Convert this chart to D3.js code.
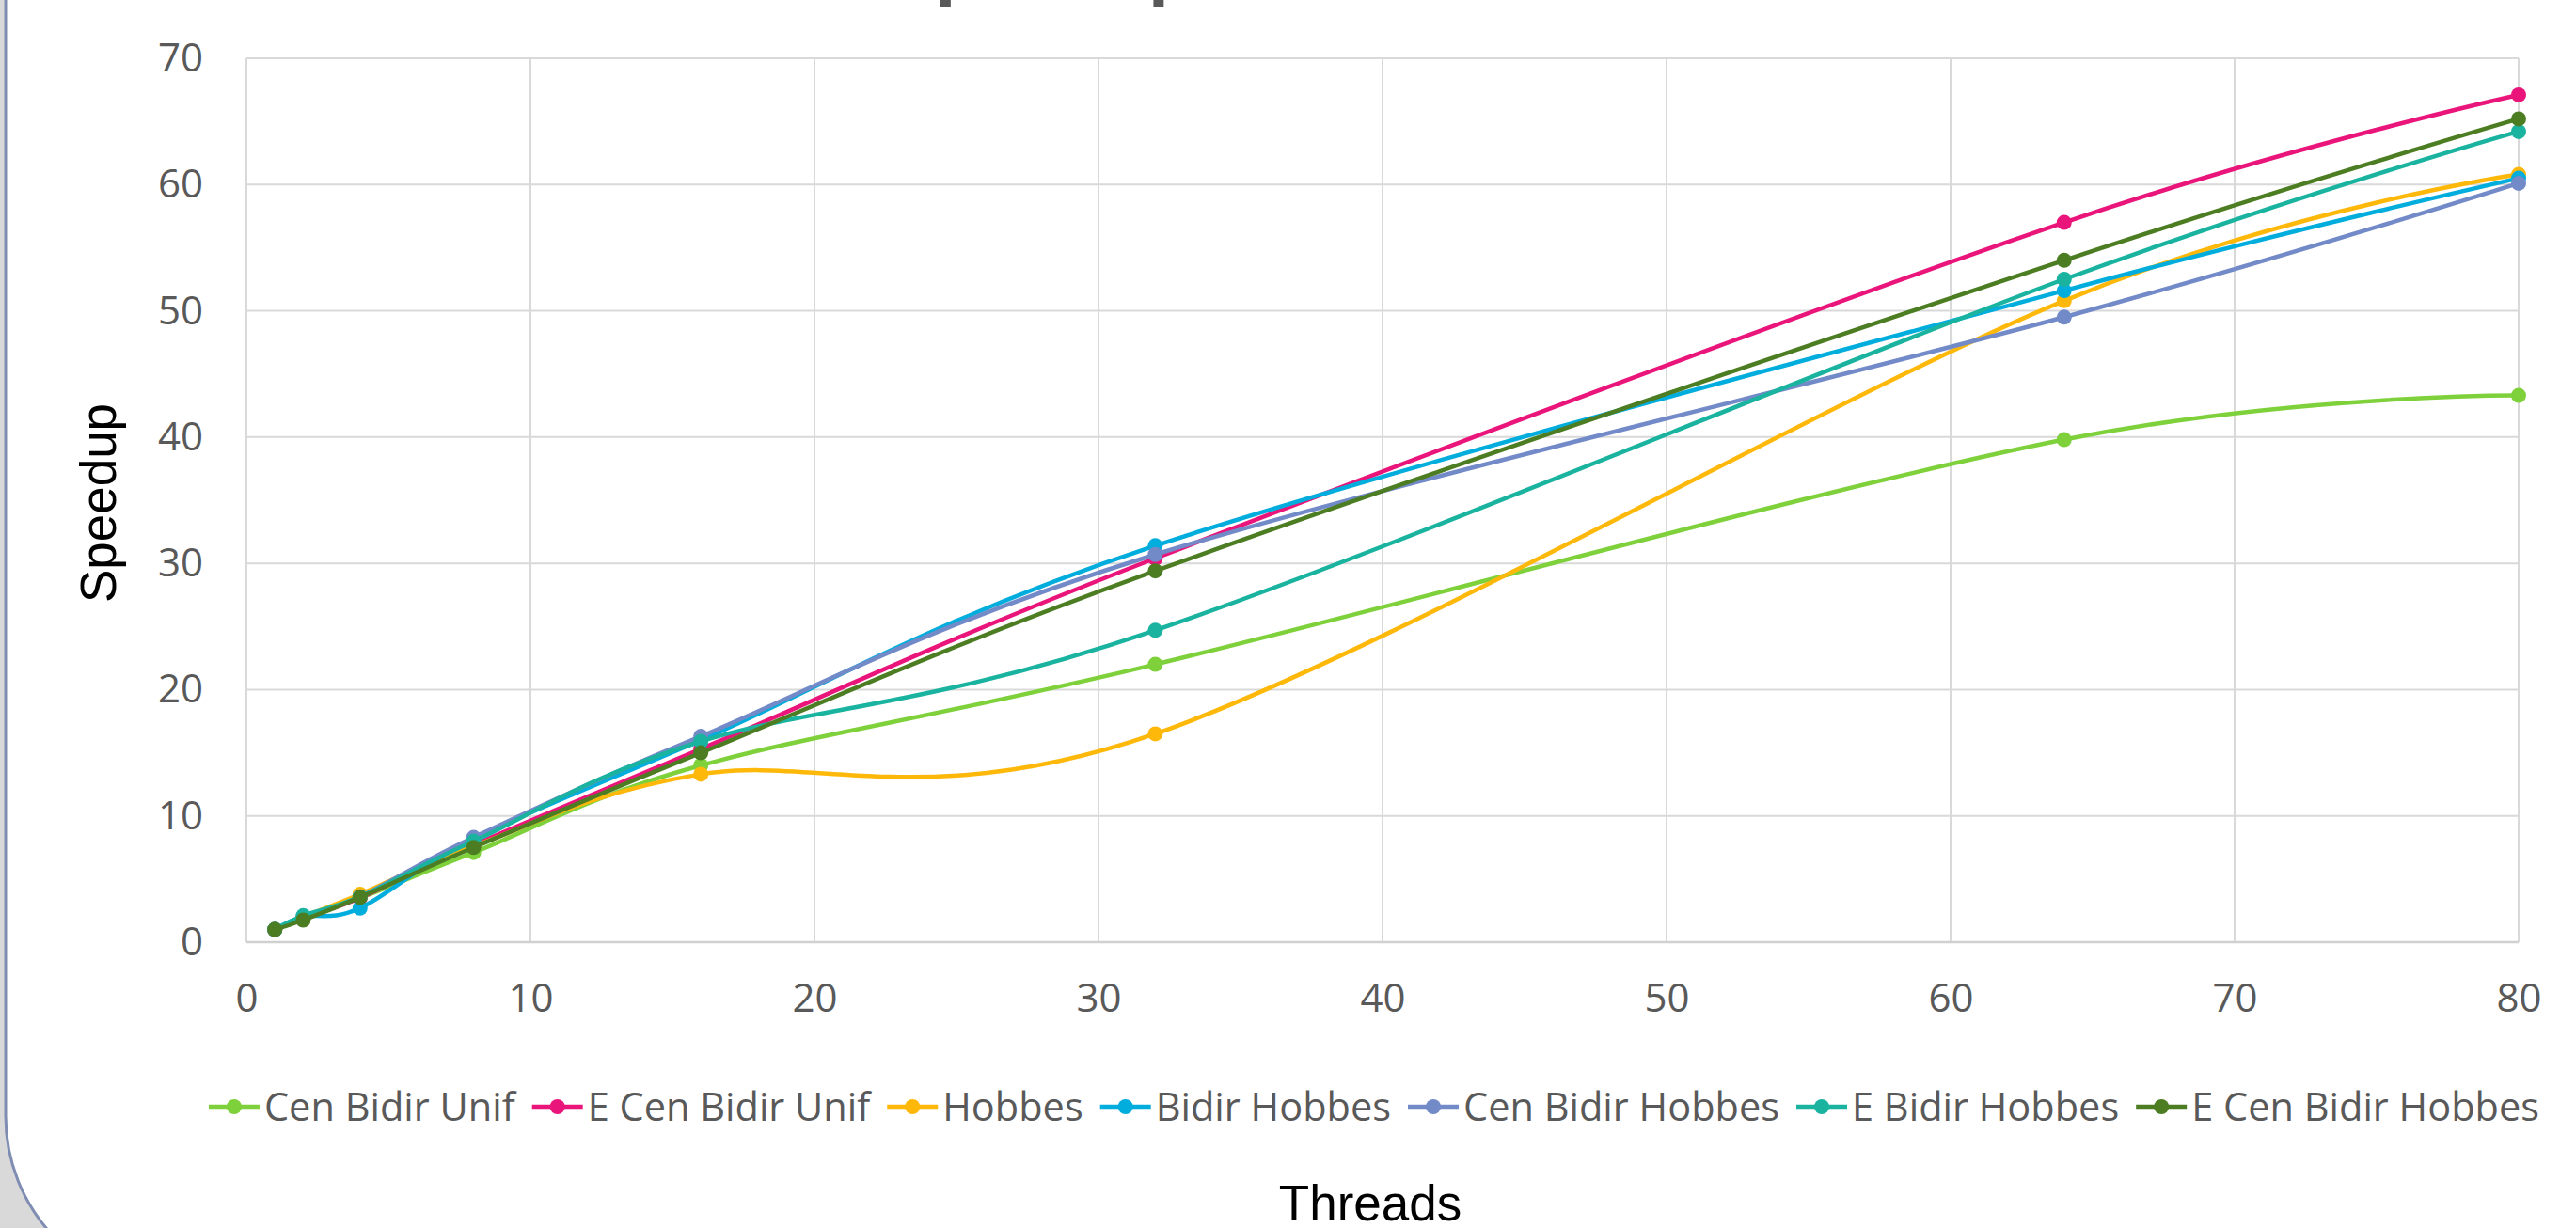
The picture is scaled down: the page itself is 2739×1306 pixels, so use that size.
<!DOCTYPE html>
<html>
<head>
<meta charset="utf-8">
<script src="https://cdn.jsdelivr.net/npm/d3@7"></script>
<style>
  html, body { margin: 0; padding: 0; background: #ffffff; }
  svg { display: block; }
</style>
</head>
<body>
<svg id="chart" width="2739" height="1306"></svg>
<script>
// ---------- data ----------
const threads = [1, 2, 4, 8, 16, 32, 64, 80];
const seriesNames = ["Cen Bidir Unif", "E Cen Bidir Unif", "Hobbes", "Bidir Hobbes", "Cen Bidir Hobbes", "E Bidir Hobbes", "E Cen Bidir Hobbes"];
const cenBidirUnif     = [1, 2.0, 3.5, 7.1, 14.0, 22.0, 39.8, 43.3];
const eCenBidirUnif    = [1, 1.9, 3.5, 7.7, 15.3, 30.4, 57.0, 67.1];
const hobbes           = [1, 2.0, 3.8, 7.6, 13.3, 16.5, 50.8, 60.8];
const bidirHobbes      = [1, 2.0, 2.7, 8.2, 16.0, 31.4, 51.6, 60.5];
const cenBidirHobbes   = [1, 2.0, 3.6, 8.3, 16.3, 30.7, 49.5, 60.1];
const eBidirHobbes     = [1, 2.1, 3.6, 8.0, 15.9, 24.7, 52.5, 64.2];
const eCenBidirHobbes  = [1, 1.75, 3.55, 7.5, 15.0, 29.4, 54.0, 65.2];
const seriesValues = [cenBidirUnif, eCenBidirUnif, hobbes, bidirHobbes, cenBidirHobbes, eBidirHobbes, eCenBidirHobbes];
const seriesColors = ["#7FD13B", "#EA157A", "#FEB80A", "#00ADDC", "#738AC8", "#1AB39F", "#4C7D23"];
const xTicks = [0, 10, 20, 30, 40, 50, 60, 70, 80];
const yTicks = [0, 10, 20, 30, 40, 50, 60, 70];
const titleText = "Speedup";
const xTitle = "Threads";
const yTitle = "Speedup";

// ---------- layout ----------
const svg = d3.select("#chart");
const W = 2739, H = 1306;
const plot = { left: 262, right: 2678, top: 62, bottom: 1002 };
const x = d3.scaleLinear().domain([0, 80]).range([plot.left, plot.right]);
const y = d3.scaleLinear().domain([0, 70]).range([plot.bottom, plot.top]);

// background outside chart frame
svg.append("rect").attr("x", 0).attr("y", 0).attr("width", W).attr("height", H).attr("fill", "#D9D9D9");
svg.append("rect")
  .attr("x", 6).attr("y", -400).attr("width", 3000).attr("height", 1773)
  .attr("rx", 186).attr("ry", 186)
  .attr("fill", "#ffffff").attr("stroke", "#7F8DB2").attr("stroke-width", 3);

// title (mostly above the visible area)
svg.append("text")
  .attr("x", 954).attr("y", -11)
  .attr("font-family", "'Open Sans', sans-serif").attr("font-weight", 700)
  .attr("font-size", 73).attr("fill", "#595959")
  .text(titleText);

// gridlines
const grid = svg.append("g");
grid.selectAll("line.h").data(yTicks).join("line")
  .attr("x1", plot.left).attr("x2", plot.right)
  .attr("y1", d => y(d)).attr("y2", d => y(d))
  .attr("stroke", "#D9D9D9").attr("stroke-width", 2);
grid.selectAll("line.v").data(xTicks).join("line")
  .attr("y1", plot.top).attr("y2", plot.bottom)
  .attr("x1", d => x(d)).attr("x2", d => x(d))
  .attr("stroke", "#D9D9D9").attr("stroke-width", 2);
// bottom axis line
svg.append("line").attr("x1", plot.left).attr("x2", plot.right)
  .attr("y1", y(0)).attr("y2", y(0)).attr("stroke", "#D0D0D0").attr("stroke-width", 2.5);

// axes (tick labels only)
const yAxis = d3.axisLeft(y).tickValues(yTicks).tickSize(0).tickPadding(46);
const gy = svg.append("g").attr("transform", `translate(${plot.left},0)`).call(yAxis);
const xAxis = d3.axisBottom(x).tickValues(xTicks).tickSize(0).tickPadding(44);
const gx = svg.append("g").attr("transform", `translate(0,${plot.bottom})`).call(xAxis);
[gx, gy].forEach(g => {
  g.select(".domain").remove();
  g.selectAll("text").attr("font-family", "'Open Sans', sans-serif").attr("font-size", 42).attr("fill", "#595959");
});

// series
const line = d3.line().x((d, i) => x(threads[i])).y(d => y(d)).curve(d3.curveCardinal.tension(0));
seriesValues.forEach((vals, k) => {
  const g = svg.append("g");
  g.append("path").attr("d", line(vals)).attr("fill", "none")
    .attr("stroke", seriesColors[k]).attr("stroke-width", 4.5).attr("stroke-linejoin", "round");
  g.selectAll("circle").data(vals).join("circle")
    .attr("cx", (d, i) => x(threads[i])).attr("cy", d => y(d)).attr("r", 8)
    .attr("fill", seriesColors[k]);
});

// axis titles
svg.append("text").attr("x", 1457).attr("y", 1298)
  .attr("text-anchor", "middle").attr("font-family", "'Liberation Sans', Arial, sans-serif")
  .attr("font-size", 53).attr("fill", "#000000").text(xTitle);
svg.append("text").attr("transform", "translate(123,535) rotate(-90)")
  .attr("text-anchor", "middle").attr("font-family", "'Liberation Sans', Arial, sans-serif")
  .attr("font-size", 53).attr("fill", "#000000").text(yTitle);

// legend
const legend = svg.append("g");
const legendY = 1177;
let cursor = 0;
seriesNames.forEach((name, k) => {
  const g = legend.append("g");
  g.append("line").attr("x1", 0).attr("x2", 54).attr("y1", 0).attr("y2", 0)
    .attr("stroke", seriesColors[k]).attr("stroke-width", 4.5);
  g.append("circle").attr("cx", 27).attr("cy", 0).attr("r", 8).attr("fill", seriesColors[k]);
  const t = g.append("text").attr("x", 59).attr("y", 15)
    .attr("font-family", "'Open Sans', sans-serif").attr("font-size", 41.5).attr("fill", "#595959").text(name);
  const w = 59 + t.node().getComputedTextLength();
  g.attr("transform", `translate(${cursor},${legendY})`);
  cursor += w + 18;
});
const total = cursor - 18;
legend.attr("transform", `translate(${1461 - total / 2},0)`);
</script>
</body>
</html>
